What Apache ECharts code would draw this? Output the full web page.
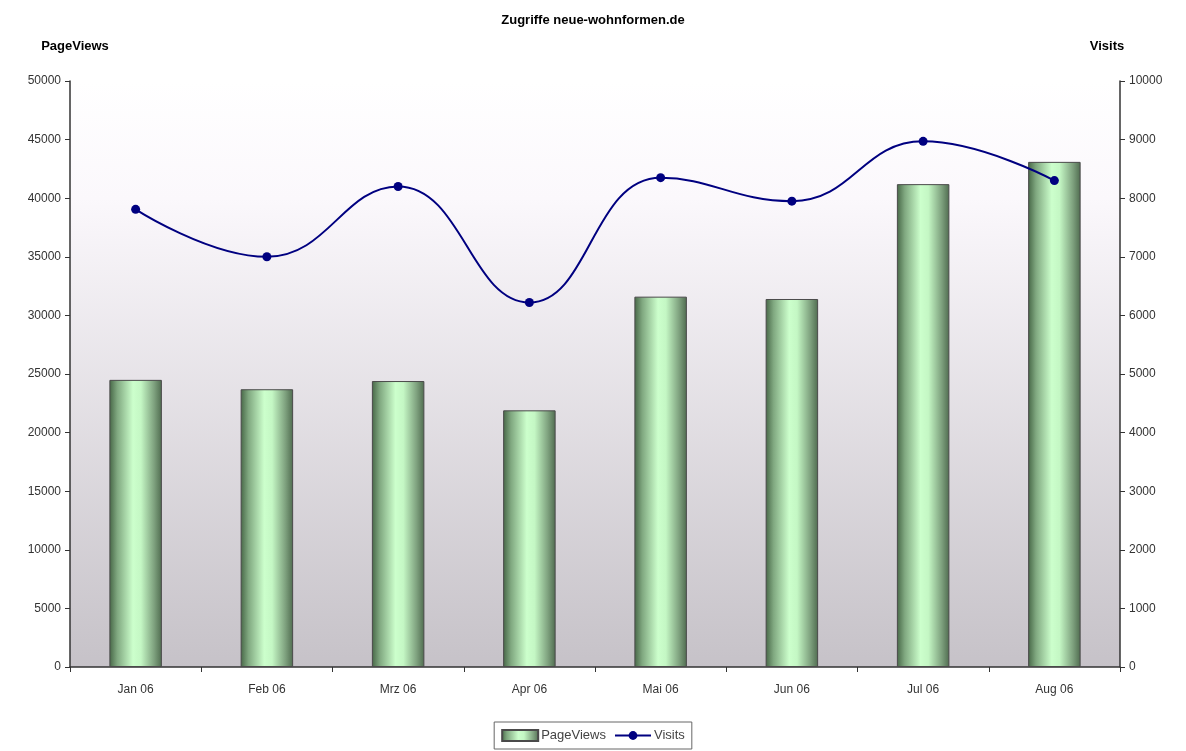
<!DOCTYPE html>
<html><head><meta charset="utf-8">
<script src="https://cdn.jsdelivr.net/npm/echarts@6/dist/echarts.min.js"></script>
<style>html,body{margin:0;padding:0;background:#fff}#c{width:1186px;height:751px}</style>
</head><body><div id="c"></div>
<script>
var categories = ['Jan 06','Feb 06','Mrz 06','Apr 06','Mai 06','Jun 06','Jul 06','Aug 06'];
var pageViews = [24500, 23700, 24400, 21900, 31600, 31400, 41200, 43100];
var visits = [7810, 7000, 8200, 6220, 8350, 7950, 8970, 8300];

var chart = echarts.init(document.getElementById('c'));
var barGrad = new echarts.graphic.LinearGradient(0,0,1,0,[
  {offset:0,color:'#466646'},{offset:0.15,color:'#80a880'},{offset:0.45,color:'#ccffcc'},
  {offset:0.6,color:'#c4f7c4'},{offset:0.85,color:'#7fa27f'},{offset:1,color:'#4f6b4f'}]);
var font = 'Liberation Sans, Arial, sans-serif';
function plain(v){ return String(v); }
chart.setOption({
  animation:false,
  title:{text:'Zugriffe neue-wohnformen.de',left:'center',top:9,
    textStyle:{fontFamily:font,fontSize:13,fontWeight:'bold',color:'#000'}},
  legend:{bottom:2,left:'center',itemWidth:36,itemHeight:11,itemGap:8,
    borderColor:'#666',borderWidth:1,padding:[7,7],borderRadius:0,
    textStyle:{fontFamily:font,fontSize:13,color:'#444',padding:[0,0,0,-2]},
    data:[{name:'PageViews',icon:'rect'},{name:'Visits'}]},
  grid:{left:70,right:66,top:81,bottom:84,show:true,borderWidth:0,
    backgroundColor:new echarts.graphic.LinearGradient(0,0,0,1,[
      {offset:0,color:'#ffffff'},{offset:0.2,color:'#fbf8fc'},{offset:1,color:'#c6c2c8'}])},
  xAxis:{type:'category',data:categories,
    axisLine:{lineStyle:{color:'#333',width:1.5}},
    axisTick:{show:true,alignWithLabel:false,length:5,lineStyle:{color:'#333'}},
    axisLabel:{fontFamily:font,fontSize:12,color:'#333',margin:17}},
  yAxis:[{type:'value',min:0,max:50000,interval:5000,name:'PageViews',nameLocation:'end',nameGap:28,
      nameTextStyle:{fontFamily:font,fontSize:13,fontWeight:'bold',color:'#000',align:'center',padding:[0,0,0,10]},
      axisLine:{show:true,lineStyle:{color:'#333',width:1.5}},
      axisTick:{show:true,length:5,lineStyle:{color:'#333'}},
      splitLine:{show:false},
      axisLabel:{fontFamily:font,fontSize:12,color:'#333',margin:9,formatter:plain}},
    {type:'value',min:0,max:10000,interval:1000,name:'Visits',nameLocation:'end',nameGap:28,position:'right',
      nameTextStyle:{fontFamily:font,fontSize:13,fontWeight:'bold',color:'#000',align:'center',padding:[0,26,0,0]},
      axisLine:{show:true,lineStyle:{color:'#333',width:1.5}},
      axisTick:{show:true,length:5,lineStyle:{color:'#333'}},
      splitLine:{show:false},
      axisLabel:{fontFamily:font,fontSize:12,color:'#333',margin:9,formatter:plain}}],
  series:[
    {name:'PageViews',type:'bar',data:pageViews,barWidth:'40%',
      itemStyle:{color:barGrad,borderColor:'#4a4a4a',borderWidth:1}},
    {name:'Visits',type:'line',yAxisIndex:1,data:visits,smooth:0.45,
      symbol:'circle',symbolSize:9,
      lineStyle:{color:'#000080',width:2},itemStyle:{color:'#000080'}}
  ]
});
</script></body></html>
